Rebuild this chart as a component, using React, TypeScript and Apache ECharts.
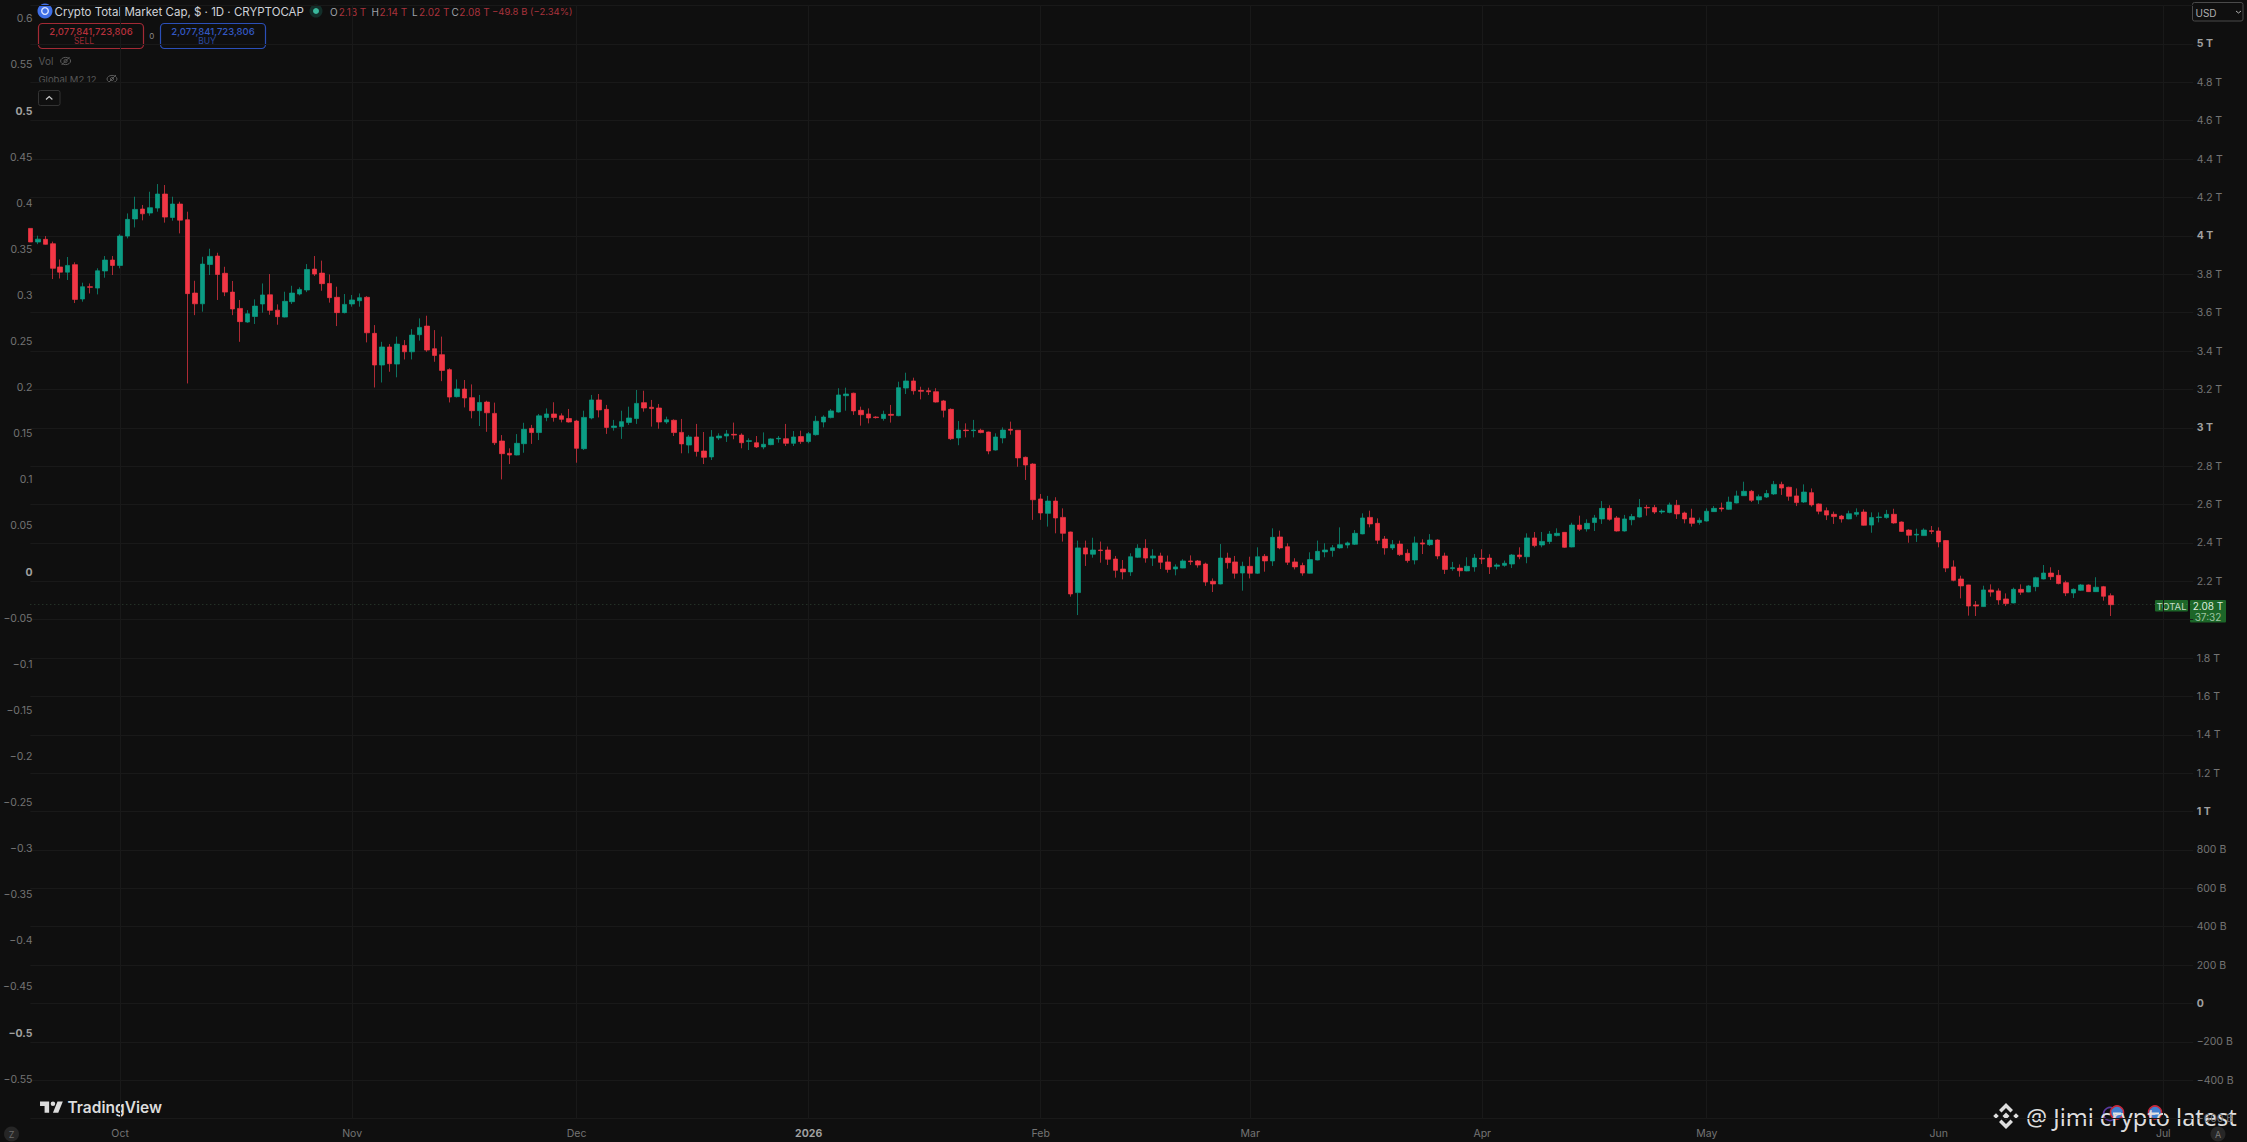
import React, { useEffect, useRef } from "react";
import * as echarts from "echarts";

// Daily candles of TOTAL, in billions of USD, first candle 2025-09-19
const opens = [
  4039,3968,3982,3959,3838,3811,3850,3671,3735,3728,
  3817,3874,3846,3999,4088,4140,4119,4145,4218,4096,
  4166,4084,3702,3646,3851,3895,3805,3707,3622,3551,
  3580,3645,3693,3613,3577,3657,3697,3718,3827,3806,
  3752,3680,3600,3645,3662,3680,3492,3327,3421,3332,
  3429,3396,3485,3530,3412,3381,3303,3162,3202,3157,
  3089,3134,3075,2931,2867,2858,2917,2997,2975,3054,
  3072,3062,3048,3035,2891,3051,3145,3096,3002,3006,
  3028,3048,3131,3107,3103,3030,3039,2976,2910,2952,
  2879,2848,2947,2957,2966,2962,2929,2922,2900,2912,
  2942,2943,2919,2954,2928,2964,3030,3053,3082,3167,
  3180,3091,3072,3056,3048,3070,3063,3207,3244,3195,
  3193,3188,3140,3096,2947,2988,2985,2987,2978,2884,
  2947,2992,2987,2846,2811,2629,2554,2618,2533,2457,
  2141,2374,2341,2363,2363,2316,2264,2249,2325,2372,
  2321,2332,2301,2264,2269,2306,2306,2290,2200,2186,
  2321,2301,2243,2278,2242,2330,2306,2431,2380,2301,
  2282,2242,2311,2353,2360,2374,2389,2393,2447,2533,
  2502,2420,2374,2394,2346,2311,2400,2391,2415,2332,
  2266,2269,2254,2275,2320,2321,2278,2283,2290,2337,
  2328,2426,2389,2407,2438,2455,2379,2493,2473,2506,
  2525,2580,2530,2462,2521,2535,2585,2584,2561,2559,
  2596,2556,2530,2507,2514,2563,2582,2575,2608,2646,
  2669,2624,2639,2655,2705,2690,2645,2613,2662,2603,
  2568,2549,2540,2525,2549,2561,2493,2532,2532,2549,
  2509,2467,2441,2438,2464,2462,2412,2275,2212,2181,
  2077,2068,2155,2150,2108,2087,2158,2144,2172,2212,
  2243,2231,2193,2139,2153,2181,2146,2172,2125,
];
const closes = [
  3968,3983,3956,3831,3811,3846,3669,3735,3732,3818,
  3874,3846,3999,4086,4138,4115,4147,4218,4098,4166,
  4082,3699,3646,3853,3893,3799,3707,3619,3553,3594,
  3634,3692,3612,3579,3659,3702,3721,3825,3801,3751,
  3678,3600,3643,3666,3678,3495,3327,3421,3334,3436,
  3396,3483,3523,3405,3377,3299,3160,3202,3155,3089,
  3132,3078,2922,2865,2858,2919,2992,2975,3062,3072,
  3054,3044,3030,2893,3054,3145,3093,3002,3009,3032,
  3051,3127,3103,3100,3030,3042,2975,2916,2952,2877,
  2846,2952,2957,2968,2962,2922,2933,2900,2914,2942,
  2945,2919,2952,2928,2969,3034,3056,3088,3171,3176,
  3088,3068,3051,3053,3070,3065,3209,3244,3193,3190,
  3188,3134,3091,2943,2988,2985,2988,2975,2879,2952,
  2988,2987,2843,2806,2625,2556,2618,2530,2450,2134,
  2374,2342,2363,2360,2315,2257,2249,2328,2372,2321,
  2332,2299,2262,2275,2306,2302,2285,2196,2186,2321,
  2297,2242,2278,2242,2328,2306,2429,2374,2299,2275,
  2243,2313,2356,2363,2375,2391,2400,2450,2530,2499,
  2414,2374,2391,2339,2308,2400,2394,2415,2332,2262,
  2271,2255,2278,2321,2316,2275,2285,2294,2337,2328,
  2426,2386,2408,2446,2450,2377,2493,2471,2502,2530,
  2580,2523,2462,2525,2537,2584,2582,2561,2566,2598,
  2551,2525,2502,2518,2565,2580,2577,2613,2645,2669,
  2622,2641,2657,2705,2686,2643,2610,2665,2598,2565,
  2545,2537,2525,2552,2559,2492,2532,2535,2549,2504,
  2460,2440,2445,2467,2460,2405,2269,2205,2176,2071,
  2071,2155,2144,2103,2084,2158,2143,2176,2219,2243,
  2224,2188,2139,2158,2181,2146,2169,2122,2078,
];
const highs = [
  4039,4001,3999,3970,3877,3890,3862,3756,3752,3831,
  3895,3895,4008,4117,4204,4161,4230,4270,4265,4204,
  4178,4126,3766,3891,3933,3912,3839,3765,3666,3613,
  3669,3752,3801,3643,3709,3740,3732,3853,3895,3871,
  3799,3735,3697,3692,3700,3686,3535,3448,3436,3475,
  3457,3514,3570,3584,3509,3475,3310,3252,3249,3226,
  3171,3141,3131,2962,2893,2967,3026,3015,3072,3101,
  3133,3075,3098,3041,3089,3171,3176,3119,3041,3089,
  3110,3197,3193,3145,3124,3058,3044,3046,2962,3020,
  2978,2988,2971,2988,3027,2971,2945,2957,2976,2945,
  2957,3020,2983,2985,2978,3062,3065,3098,3206,3209,
  3183,3110,3101,3060,3089,3119,3240,3287,3261,3214,
  3209,3206,3145,3101,3035,3023,3041,2995,2980,2971,
  3002,3032,2988,2850,2815,2655,2645,2638,2580,2459,
  2412,2412,2427,2407,2381,2332,2311,2346,2393,2419,
  2367,2349,2334,2288,2315,2335,2311,2297,2215,2394,
  2349,2332,2302,2328,2377,2342,2476,2464,2398,2320,
  2297,2351,2412,2398,2389,2481,2407,2467,2554,2568,
  2528,2436,2415,2412,2367,2433,2419,2446,2419,2349,
  2301,2288,2325,2342,2367,2341,2294,2308,2342,2377,
  2450,2457,2457,2462,2476,2457,2505,2542,2523,2546,
  2618,2596,2540,2546,2551,2629,2598,2598,2575,2610,
  2624,2563,2578,2532,2580,2592,2610,2641,2672,2719,
  2676,2652,2676,2723,2719,2693,2684,2705,2684,2606,
  2585,2563,2546,2568,2580,2575,2559,2559,2572,2578,
  2512,2471,2474,2476,2488,2481,2415,2309,2229,2182,
  2097,2177,2184,2163,2137,2167,2184,2181,2224,2285,
  2273,2259,2203,2163,2186,2184,2221,2176,2137,
];
const lows = [
  3968,3957,3954,3775,3778,3770,3650,3657,3700,3695,
  3782,3796,3831,3987,4044,4081,4105,4126,4069,4079,
  4013,3231,3587,3605,3796,3666,3686,3587,3448,3547,
  3541,3600,3589,3537,3575,3645,3690,3707,3791,3714,
  3652,3530,3596,3631,3631,3445,3210,3236,3292,3263,
  3356,3356,3454,3396,3344,3243,3132,3158,3106,3049,
  3009,2979,2910,2731,2811,2856,2870,2916,2936,3034,
  3032,3028,3027,2818,2884,3044,3054,2968,2985,2942,
  3015,3020,3084,3006,2995,3020,2957,2867,2867,2850,
  2811,2832,2936,2926,2940,2893,2884,2895,2888,2909,
  2922,2905,2905,2916,2919,2959,3002,3049,3079,3089,
  3067,3011,3023,3048,3037,3027,3060,3176,3173,3148,
  3171,3131,3054,2936,2909,2950,2950,2971,2862,2881,
  2919,2964,2797,2728,2520,2520,2485,2450,2407,2120,
  2024,2280,2323,2297,2285,2219,2210,2228,2321,2297,
  2280,2264,2245,2231,2268,2285,2271,2176,2144,2184,
  2266,2214,2151,2215,2238,2250,2280,2367,2285,2262,
  2229,2240,2309,2325,2328,2370,2372,2389,2445,2481,
  2394,2339,2363,2332,2297,2288,2342,2384,2315,2238,
  2255,2224,2252,2250,2290,2238,2262,2276,2269,2315,
  2294,2377,2377,2394,2434,2374,2377,2462,2459,2462,
  2499,2516,2459,2459,2492,2532,2542,2551,2551,2554,
  2525,2502,2485,2495,2511,2561,2563,2572,2606,2645,
  2613,2603,2634,2650,2650,2620,2592,2608,2589,2549,
  2519,2499,2506,2523,2537,2490,2453,2507,2526,2500,
  2457,2401,2405,2436,2446,2377,2248,2200,2111,2021,
  2019,2066,2120,2078,2071,2085,2129,2143,2148,2210,
  2207,2184,2123,2113,2150,2144,2144,2099,2019,
];
const lastClose = 2078;
const firstDay = Date.UTC(2025, 8, 19);
const categoryCount = 290; // the time axis runs past the last candle
const monthLabels: Record<string, string> = {
  "2025-10-01": "Oct",
  "2025-11-01": "Nov",
  "2025-12-01": "Dec",
  "2026-01-01": "2026",
  "2026-02-01": "Feb",
  "2026-03-01": "Mar",
  "2026-04-01": "Apr",
  "2026-05-01": "May",
  "2026-06-01": "Jun",
  "2026-07-01": "Jul",
};
const boldLeftTicks = ["0.5", "0", "−0.5"];

const days: string[] = [];
for (let i = 0; i < categoryCount; i++) {
  days.push(new Date(firstDay + i * 86400000).toISOString().slice(0, 10));
}

const UP = "#0b9d84";
const DOWN = "#f23645";
const BG = "#0f0f0f";
const GRID = "#191919";
const AXIS = "#747474";
const AXIS_BOLD = "#a0a0a0";
const FONT = "Inter, Roboto, sans-serif";

echarts.graphic.registerShape(
  "tvLogo",
  echarts.graphic.extendPath(
    "M14 6H2v6h6v9h6V6Zm12 15h-7l6-15h7l-6 15Zm-7-9a3 3 0 1 0 0-6 3 3 0 0 0 0 6Z",
    {}
  )
);
echarts.graphic.registerShape(
  "bnbLogo",
  echarts.graphic.extendPath(
    "M13 0L20 7L17.5 9.5L13 5L8.5 9.5L6 7ZM13 26L20 19L17.5 16.5L13 21L8.5 16.5L6 19ZM13 9.5L16.5 13L13 16.5L9.5 13ZM3 10.2L5.8 13L3 15.8L0.2 13ZM23 10.2L25.8 13L23 15.8L20.2 13Z",
    {}
  )
);

function txt(text: string, x: number, y: number, fill: string, font: string, align = "left") {
  return { type: "text", x, y, silent: true, style: { text, fill, font, align, verticalAlign: "middle" } };
}
function eye(cx: number, cy: number) {
  const stroke = "#5b5b5b";
  return [
    { type: "ellipse", shape: { cx, cy, rx: 5, ry: 3.6 }, style: { fill: "none", stroke, lineWidth: 1 } },
    { type: "circle", shape: { cx, cy, r: 1.6 }, style: { fill: "none", stroke, lineWidth: 1 } },
    { type: "line", shape: { x1: cx - 4, y1: cy + 4, x2: cx + 4, y2: cy - 4 }, style: { stroke, lineWidth: 1 } },
  ];
}
function flagBadge(cx: number, cy: number) {
  return [
    { type: "circle", shape: { cx, cy, r: 6.5 }, style: { fill: "#3f7fd0", stroke: "#c8283a", lineWidth: 1.6 } },
    { type: "rect", shape: { x: cx - 4, y: cy, width: 8, height: 2 }, style: { fill: "#e8e8e8" } },
  ];
}

function buildGraphic() {
  const dim = "10px " + FONT;
  const red = "#a8323c";
  const lab = "#a0a3aa";
  return [
    { type: "circle", shape: { cx: 45, cy: 11, r: 7.5 }, style: { fill: "#3f6fe8" } },
    { type: "ring", shape: { cx: 45, cy: 11, r: 4, r0: 2.6 }, style: { fill: "#d8e2ff" } },
    txt("Crypto Total Market Cap, $ · 1D · CRYPTOCAP", 54.5, 11.5, "#cfd2d8", "11.5px " + FONT),
    { type: "circle", shape: { cx: 316, cy: 11, r: 6.5 }, style: { fill: "rgba(38,166,140,0.22)" } },
    { type: "circle", shape: { cx: 316, cy: 11, r: 3 }, style: { fill: "#3ab89c" } },
    txt("O", 330, 11.5, lab, dim),
    txt("2.13 T", 338.7, 11.5, red, dim),
    txt("H", 371.5, 11.5, lab, dim),
    txt("2.14 T", 379.4, 11.5, red, dim),
    txt("L", 411.9, 11.5, lab, dim),
    txt("2.02 T", 419, 11.5, red, dim),
    txt("C", 451.4, 11.5, lab, dim),
    txt("2.08 T", 459.3, 11.5, red, dim),
    txt("−49.8 B (−2.34%)", 492, 11.5, red, "9.5px " + FONT),

    { type: "rect", shape: { x: 38.5, y: 23.5, width: 105, height: 25, r: 4 }, style: { fill: BG, stroke: "#a32a35", lineWidth: 1.2 } },
    txt("2,077,841,723,806", 91, 31, "#b8303c", "500 9.5px " + FONT, "center"),
    txt("SELL", 84, 41, "#9c2a34", "8.5px " + FONT, "center"),
    txt("0", 151.8, 35.5, "#8a8a8a", "8px " + FONT, "center"),
    { type: "rect", shape: { x: 160.5, y: 23.5, width: 105, height: 25, r: 4 }, style: { fill: BG, stroke: "#2b4fb8", lineWidth: 1.2 } },
    txt("2,077,841,723,806", 213, 31, "#3359c4", "500 9.5px " + FONT, "center"),
    txt("BUY", 207, 41, "#2c4a9f", "8.5px " + FONT, "center"),

    txt("Vol", 38.5, 61, "#585858", "10px " + FONT),
    ...eye(65.6, 61),
    txt("Global M2 12", 38.5, 79, "#585858", "9.5px " + FONT),
    ...eye(112, 79),
    { type: "rect", shape: { x: 38.5, y: 90.5, width: 21.5, height: 15, r: 2 }, style: { fill: BG, stroke: "#333333", lineWidth: 1 } },
    { type: "polyline", shape: { points: [[46, 99.5], [49.2, 96.5], [52.4, 99.5]] }, style: { fill: "none", stroke: "#c8c8c8", lineWidth: 1.2 } },

    { type: "rect", shape: { x: 2192.5, y: 2.5, width: 50.5, height: 18.5, r: 2 }, style: { fill: BG, stroke: "#4a4a4a", lineWidth: 1 } },
    txt("USD", 2195.5, 12.5, "#b0b0b0", "10px " + FONT),
    { type: "polyline", shape: { points: [[2236, 11], [2238.5, 13], [2241, 11]] }, style: { fill: "none", stroke: "#b0b0b0", lineWidth: 1 } },

    { type: "rect", shape: { x: 2155, y: 600, width: 33, height: 11.5, r: 1 }, style: { fill: "#1c6628" } },
    txt("TOTAL", 2171.5, 606, "#c4dcc6", "9.5px " + FONT, "center"),
    { type: "rect", shape: { x: 2190, y: 600, width: 36, height: 22.5, r: 1 }, style: { fill: "#1c6628" } },
    txt("2.08 T", 2208, 606, "#dcebdc", "10px " + FONT, "center"),
    txt("37:32", 2208, 616.5, "#9cc4a0", "10px " + FONT, "center"),

    { type: "tvLogo", x: 38.5, y: 1096.9, scaleX: 0.76, scaleY: 0.76, style: { fill: "#dcdcdc" } },
    txt("TradingView", 67.5, 1107.5, "#dcdcdc", "600 15.5px " + FONT),

    { type: "circle", shape: { cx: 11.5, cy: 1134, r: 7.5 }, style: { fill: "#262626" } },
    txt("Z", 11.5, 1134, "#6a6a6a", "9px " + FONT, "center"),
    { type: "circle", shape: { cx: 2218, cy: 1134, r: 7.5 }, style: { fill: "#262626" } },
    txt("A", 2218, 1134, "#7a7a7a", "9px " + FONT, "center"),

    { type: "circle", shape: { cx: 2110, cy: 1114, r: 6.5 }, style: { fill: "none", stroke: "#5a3aa0", lineWidth: 1.6 } },
    ...flagBadge(2117, 1112.5),
    ...flagBadge(2155, 1112.5),
    { type: "bnbLogo", x: 1993, y: 1103, style: { fill: "#dedede" } },
    txt("@ Jimi crypto latest", 2026, 1116.5, "#dedede", "400 23.5px 'Noto Sans', " + FONT),
  ];
}

function buildOption() {
  const isMonth = (_: number, value: string) => value in monthLabels;
  return {
    animation: false,
    backgroundColor: BG,
    grid: [
      { left: 30.3, width: 2162.9, top: 5.6, height: 1113 },
      { left: 30.3, width: 2162.9, top: 18.8, height: 1060.3 },
    ],
    xAxis: [
      {
        type: "category",
        gridIndex: 0,
        data: days,
        boundaryGap: false,
        axisLine: { show: false },
        axisTick: { show: false },
        splitLine: { show: true, interval: isMonth, lineStyle: { color: GRID, width: 1 } },
        axisLabel: {
          interval: isMonth,
          margin: 9,
          color: AXIS,
          fontFamily: FONT,
          fontSize: 10.5,
          formatter: (v: string) => (monthLabels[v] === "2026" ? "{b|2026}" : monthLabels[v] || ""),
          rich: { b: { fontWeight: "bold", color: AXIS_BOLD, fontFamily: FONT, fontSize: 10.5 } },
        },
      },
      { type: "value", gridIndex: 1, min: 0, max: 1, show: false },
    ],
    yAxis: [
      {
        type: "value",
        gridIndex: 0,
        position: "right",
        min: -600,
        max: 5200,
        interval: 200,
        axisLine: { show: false },
        axisTick: { show: false },
        splitLine: { show: true, lineStyle: { color: GRID, width: 1 } },
        axisLabel: {
          margin: 3.5,
          align: "left",
          color: AXIS,
          fontFamily: FONT,
          fontSize: 10.5,
          showMaxLabel: false,
          formatter: (v: number) => {
            if (v === lastClose - (lastClose % 1000)) return "";
            if (v === 0) return "{b|0}";
            const abs = Math.abs(v);
            const sign = v < 0 ? "−" : "";
            if (abs >= 1000) {
              const s = `${sign}${abs / 1000} T`;
              return abs % 1000 === 0 ? `{b|${s}}` : s;
            }
            return `${sign}${abs} B`;
          },
          rich: { b: { fontWeight: "bold", color: AXIS_BOLD, fontFamily: FONT, fontSize: 10.5 } },
        },
      },
      {
        type: "value",
        gridIndex: 1,
        position: "left",
        min: -0.55,
        max: 0.6,
        interval: 0.05,
        axisLine: { show: false },
        axisTick: { show: false },
        splitLine: { show: false },
        axisLabel: {
          margin: 6,
          color: AXIS,
          fontFamily: FONT,
          fontSize: 10.5,
          formatter: (v: number) => {
            const r = Math.round(v * 100) / 100;
            const s = r === 0 ? "0" : (r < 0 ? "−" : "") + String(Math.abs(r));
            return boldLeftTicks.includes(s) ? `{b|${s}}` : s;
          },
          rich: { b: { fontWeight: "bold", color: AXIS_BOLD, fontFamily: FONT, fontSize: 10.5 } },
        },
      },
    ],
    series: [
      {
        type: "candlestick",
        xAxisIndex: 0,
        yAxisIndex: 0,
        barWidth: 5,
        clip: true,
        itemStyle: { color: UP, color0: DOWN, borderColor: UP, borderColor0: DOWN, borderWidth: 0.7 },
        data: opens.map((o, i) => [o, closes[i], lows[i], highs[i]]),
        markLine: {
          silent: true,
          symbol: "none",
          label: { show: false },
          lineStyle: { type: [1, 3], color: "rgba(95,140,105,0.4)", width: 1 },
          data: [{ yAxis: lastClose }],
        },
      },
    ],
    graphic: buildGraphic(),
  };
}

export default function App() {
  const ref = useRef<HTMLDivElement>(null);
  useEffect(() => {
    document.body.style.margin = "0";
    document.body.style.background = BG;
    const chart = echarts.init(ref.current!, undefined, { renderer: "svg" });
    chart.setOption(buildOption() as any);
    return () => chart.dispose();
  }, []);
  return <div ref={ref} style={{ width: 2247, height: 1142 }} />;
}
